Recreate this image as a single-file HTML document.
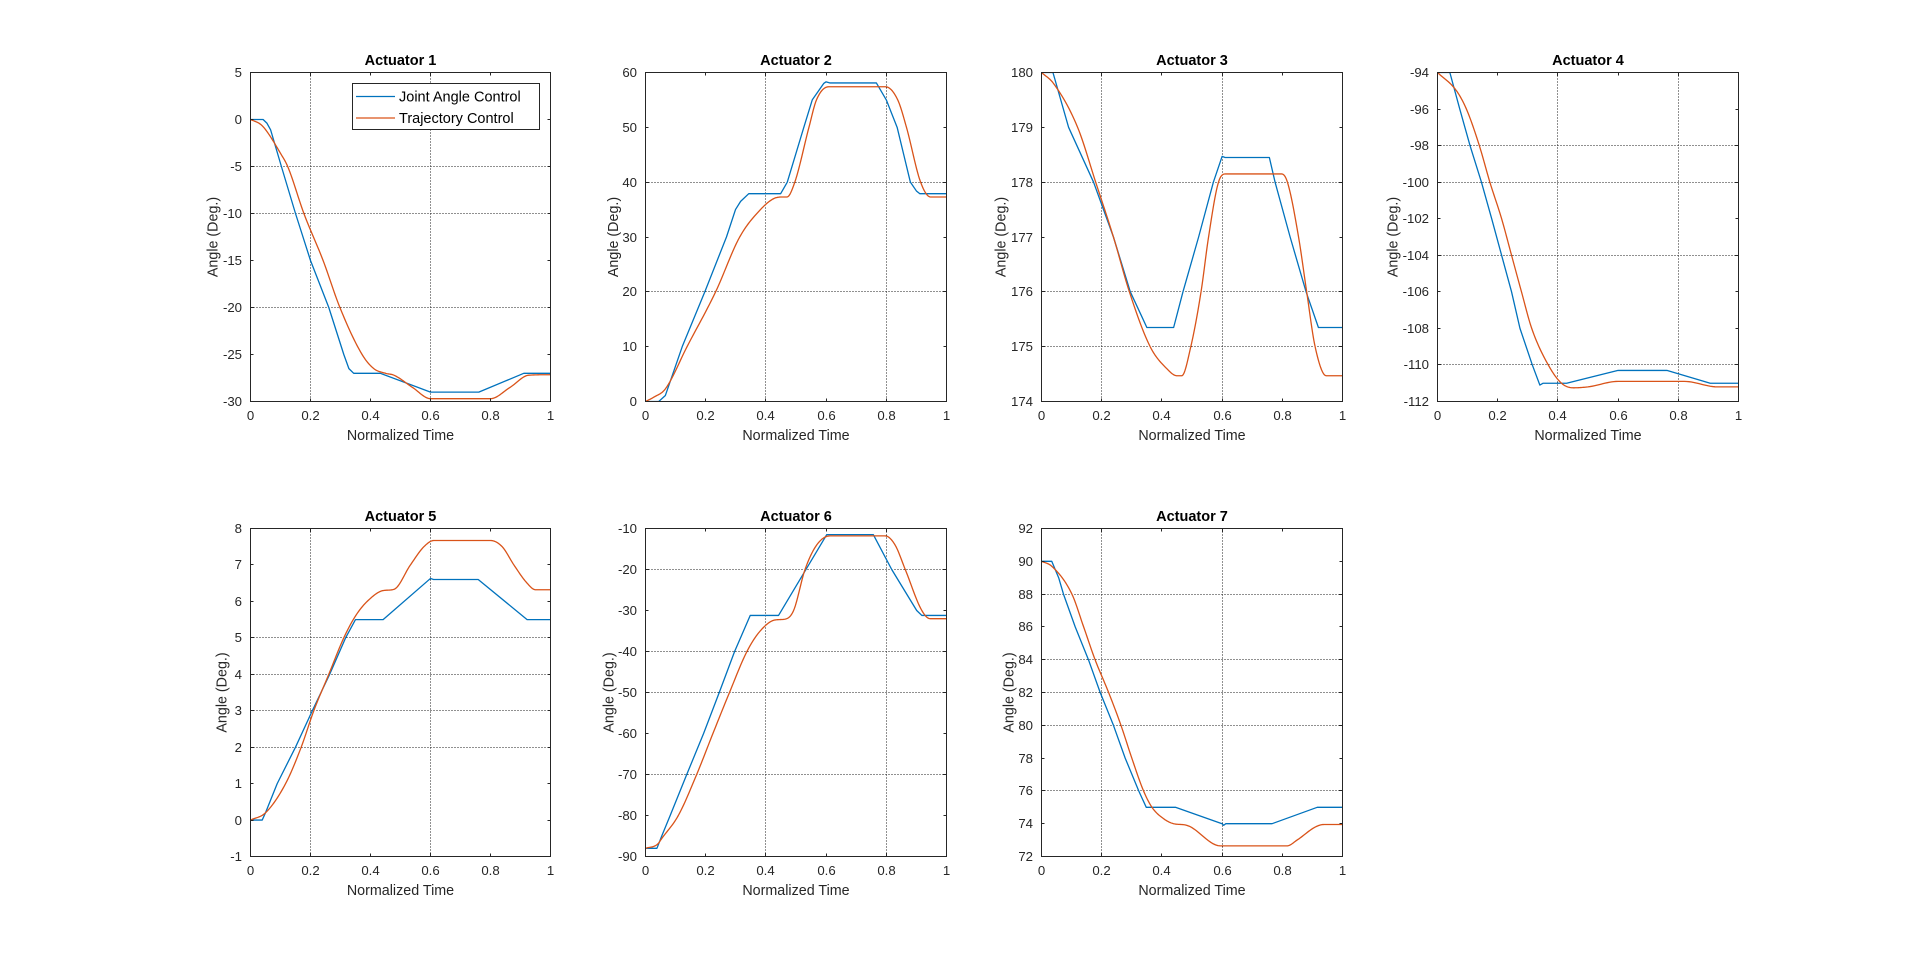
<!DOCTYPE html>
<html><head><meta charset="utf-8">
<style>
html,body{margin:0;padding:0;background:#fff;}
svg{display:block}
text{font-family:"Liberation Sans",Arial,sans-serif;}
</style></head>
<body>
<svg id="s" xmlns="http://www.w3.org/2000/svg" width="1919" height="961" viewBox="0 0 1919 961">
<rect x="0" y="0" width="1919" height="961" fill="#ffffff"/>
</svg>
<script>
const NS='http://www.w3.org/2000/svg';
const svg=document.getElementById('s');
function el(tag,attrs,parent,text){const e=document.createElementNS(NS,tag);for(const k in attrs)e.setAttribute(k,attrs[k]);if(text!==undefined)e.textContent=text;(parent||svg).appendChild(e);return e;}
function mono(pts){
  const N=pts.length, xs=pts.map(p=>p[0]), ys=pts.map(p=>p[1]);
  const d=[],m=new Array(N);
  for(let i=0;i<N-1;i++) d.push((ys[i+1]-ys[i])/(xs[i+1]-xs[i]));
  m[0]=d[0]; m[N-1]=d[N-2];
  for(let i=1;i<N-1;i++){ if(d[i-1]*d[i]<=0) m[i]=0; else m[i]=(d[i-1]+d[i])/2; }
  for(let i=0;i<N-1;i++){
    if(d[i]===0){m[i]=0;m[i+1]=0;continue;}
    const a=m[i]/d[i], b=m[i+1]/d[i], s=a*a+b*b;
    if(s>9){const t=3/Math.sqrt(s); m[i]=t*a*d[i]; m[i+1]=t*b*d[i];}
  }
  const out=[];
  for(let i=0;i<N-1;i++){
    const h=xs[i+1]-xs[i], steps=14;
    for(let k=0;k<steps;k++){
      const t=k/steps, t2=t*t, t3=t2*t;
      const y=(2*t3-3*t2+1)*ys[i]+(t3-2*t2+t)*h*m[i]+(-2*t3+3*t2)*ys[i+1]+(t3-t2)*h*m[i+1];
      out.push([xs[i]+t*h,y]);
    }
  }
  out.push([xs[N-1],ys[N-1]]);
  return out;
}
function range(a,b,s){const r=[];for(let v=a;v<=b+1e-9;v+=s)r.push(Math.round(v*1000)/1000);return r;}

const charts=[
{t:'Actuator 1',L:250,R:550,T:72,B:401,ymin:-30,ymax:5,yt:range(-30,5,5),gx:[0.2,0.6],gy:[-5,-10,-20],ylx:212.5,legend:true,
 b:[[0,0],[0.042,0],[0.055,-0.4],[0.067,-1.1],[0.103,-5],[0.15,-10],[0.2,-15],[0.261,-20],[0.311,-25],[0.328,-26.5],[0.344,-27],[0.433,-27],[0.6,-29],[0.761,-29],[0.911,-27],[1,-27]],
 o:[[0,0],[0.033,-0.5],[0.05,-1.07],[0.1,-3.6],[0.124,-5],[0.178,-10],[0.242,-15],[0.298,-20],[0.372,-25],[0.411,-26.5],[0.45,-27],[0.478,-27.2],[0.54,-28.5],[0.6,-29.7],[0.8,-29.7],[0.865,-28.5],[0.928,-27.2],[1,-27.15]]},
{t:'Actuator 2',L:645,R:946,T:72,B:401,ymin:0,ymax:60,yt:range(0,60,10),gx:[0.4,0.8],gy:[40,20],ylx:613,
 b:[[0,0],[0.044,0],[0.066,1.1],[0.122,10],[0.197,20],[0.269,30],[0.299,35],[0.316,36.5],[0.343,37.9],[0.449,37.9],[0.471,40],[0.526,50],[0.554,55],[0.592,58],[0.6,58.3],[0.612,58.1],[0.767,58.1],[0.8,55],[0.836,50],[0.858,45],[0.88,40],[0.9,38.4],[0.911,37.9],[1,37.9]],
 o:[[0,0],[0.028,0.8],[0.066,2.3],[0.138,10],[0.233,20],[0.313,30],[0.382,35],[0.426,37],[0.457,37.3],[0.47,37.3],[0.496,40],[0.543,50],[0.568,55],[0.609,57.4],[0.797,57.4],[0.838,55],[0.867,50],[0.914,40],[0.947,37.3],[1,37.3]]},
{t:'Actuator 3',L:1041,R:1342,T:72,B:401,ymin:174,ymax:180,yt:range(174,180,1),gx:[0.2,0.6],gy:[178,176,175],ylx:1000.5,
 b:[[0,180],[0.038,180],[0.09,179],[0.173,178],[0.239,177],[0.295,176],[0.35,175.35],[0.439,175.35],[0.47,176],[0.522,177],[0.571,178],[0.6,178.47],[0.61,178.45],[0.757,178.45],[0.776,178],[0.826,177],[0.879,176],[0.92,175.35],[1,175.35]],
 o:[[0,180],[0.04,179.8],[0.12,179],[0.18,178],[0.239,177],[0.292,176],[0.361,175],[0.416,174.6],[0.45,174.47],[0.466,174.47],[0.496,175],[0.53,176],[0.555,177],[0.588,178],[0.613,178.15],[0.798,178.15],[0.817,178],[0.854,177],[0.881,176],[0.909,175],[0.946,174.47],[1,174.47]]},
{t:'Actuator 4',L:1437,R:1738,T:72,B:401,ymin:-112,ymax:-94,yt:range(-112,-94,2),gx:[0.4,0.8],gy:[-98,-100,-104,-110],ylx:1392.5,
 b:[[0,-94],[0.041,-94],[0.074,-96],[0.108,-98],[0.146,-100],[0.18,-102],[0.213,-104],[0.246,-106],[0.274,-108],[0.315,-110],[0.34,-111.1],[0.351,-111],[0.429,-111],[0.6,-110.3],[0.762,-110.3],[0.906,-111],[1,-111]],
 o:[[0,-94],[0.063,-95],[0.096,-96],[0.139,-98],[0.174,-100],[0.213,-102],[0.246,-104],[0.279,-106],[0.313,-108],[0.368,-110],[0.412,-111],[0.451,-111.25],[0.5,-111.2],[0.6,-110.9],[0.82,-110.9],[0.93,-111.2],[1,-111.2]]},
{t:'Actuator 5',L:250,R:550,T:528,B:856,ymin:-1,ymax:8,yt:range(-1,8,1),gx:[0.2,0.6],gy:[5,4,3,2],ylx:221.5,
 b:[[0,0],[0.039,0],[0.05,0.2],[0.089,1],[0.15,2],[0.206,3],[0.264,4],[0.317,5],[0.35,5.5],[0.442,5.5],[0.6,6.63],[0.61,6.6],[0.759,6.6],[0.922,5.5],[1,5.5]],
 o:[[0,0],[0.05,0.2],[0.117,1],[0.169,2],[0.211,3],[0.261,4],[0.311,5],[0.35,5.6],[0.389,6],[0.444,6.3],[0.478,6.33],[0.533,7],[0.578,7.5],[0.611,7.67],[0.8,7.67],[0.839,7.5],[0.878,7],[0.922,6.5],[0.95,6.32],[1,6.32]]},
{t:'Actuator 6',L:645,R:946,T:528,B:856,ymin:-90,ymax:-10,yt:range(-90,-10,10),gx:[0.4,0.8],gy:[-20,-40,-50,-70],ylx:608.5,
 b:[[0,-88],[0.038,-88],[0.054,-85],[0.082,-80],[0.137,-70],[0.193,-60],[0.245,-50],[0.296,-40],[0.348,-31.2],[0.442,-31.2],[0.602,-11.5],[0.757,-11.5],[0.818,-20],[0.901,-30],[0.918,-31.2],[1,-31.2]],
 o:[[0,-88],[0.04,-87],[0.055,-85.5],[0.109,-80],[0.17,-70],[0.224,-60],[0.279,-50],[0.337,-40],[0.381,-35],[0.431,-32.3],[0.464,-32.1],[0.492,-30],[0.53,-20],[0.569,-14],[0.613,-11.8],[0.796,-11.8],[0.829,-14],[0.863,-20],[0.918,-30],[0.946,-32],[1,-32]]},
{t:'Actuator 7',L:1041,R:1342,T:528,B:856,ymin:72,ymax:92,yt:range(72,92,2),gx:[0.2,0.6],gy:[88,84,82,80,76],ylx:1008.5,
 b:[[0,90],[0.034,90],[0.057,89],[0.073,88],[0.112,86],[0.156,84],[0.195,82],[0.239,80],[0.278,78],[0.323,76],[0.348,75],[0.445,75],[0.6,74],[0.605,73.9],[0.612,74],[0.766,74],[0.916,75],[1,75]],
 o:[[0,90],[0.034,89.7],[0.101,88],[0.14,86],[0.178,84],[0.223,82],[0.264,80],[0.3,78],[0.339,76],[0.367,75],[0.406,74.3],[0.439,74],[0.483,73.9],[0.594,72.65],[0.816,72.65],[0.849,73],[0.91,73.8],[0.938,73.95],[1,73.95]]}
];
const AX='#262626';
charts.forEach((c,ci)=>{
  const x0=c.L+0.5,x1=c.R+0.5,y0=c.T+0.5,y1=c.B+0.5;
  const px=x=>x0+x*(x1-x0);
  const py=y=>y1-(y-c.ymin)/(c.ymax-c.ymin)*(y1-y0);
  const g=el('g',{});
  // grid
  c.gx.forEach(v=>{const X=Math.round(px(v)-0.5)+0.5;el('line',{x1:X,y1:y0,x2:X,y2:y1,stroke:'#222',"stroke-width":1,"stroke-dasharray":"1 2"},g);});
  c.gy.forEach(v=>{const Y=Math.round(py(v)-0.5)+0.5;el('line',{x1:x0,y1:Y,x2:x1,y2:Y,stroke:'#222',"stroke-width":1,"stroke-dasharray":"1 2"},g);});
  // clip
  const cid='cl'+ci;
  const defs=el('defs',{},g);const cp=el('clipPath',{id:cid},defs);el('rect',{x:x0,y:y0,width:x1-x0,height:y1-y0},cp);
  // series
  const toS=pts=>pts.map(p=>px(p[0]).toFixed(2)+','+py(p[1]).toFixed(2)).join(' ');
  el('polyline',{points:toS(c.b),fill:'none',stroke:'#0072BD',"stroke-width":1.3,"clip-path":'url(#'+cid+')',"stroke-linejoin":'round'},g);
  el('polyline',{points:toS(mono(c.o)),fill:'none',stroke:'#D95319',"stroke-width":1.3,"clip-path":'url(#'+cid+')',"stroke-linejoin":'round'},g);
  // ticks
  const xt=[0,0.2,0.4,0.6,0.8,1];
  xt.forEach(v=>{const X=Math.round(px(v)-0.5)+0.5;
    el('line',{x1:X,y1:y1,x2:X,y2:y1-3,stroke:AX,"stroke-width":1},g);
    el('line',{x1:X,y1:y0,x2:X,y2:y0+3,stroke:AX,"stroke-width":1},g);
    el('text',{x:X,y:c.B+19,"text-anchor":'middle',"font-size":'13.2px',fill:AX},g,String(v));
  });
  c.yt.forEach(v=>{const Y=Math.round(py(v)-0.5)+0.5;
    el('line',{x1:x0,y1:Y,x2:x0+3,y2:Y,stroke:AX,"stroke-width":1},g);
    el('line',{x1:x1,y1:Y,x2:x1-3,y2:Y,stroke:AX,"stroke-width":1},g);
    el('text',{x:c.L-8,y:Y+4.6,"text-anchor":'end',"font-size":'13.2px',fill:AX},g,String(v));
  });
  // box
  el('rect',{x:x0,y:y0,width:x1-x0,height:y1-y0,fill:'none',stroke:AX,"stroke-width":1},g);
  // title
  el('text',{x:(x0+x1)/2,y:c.T-7,"text-anchor":'middle',"font-size":'14.5px',"font-weight":'bold',fill:'#000'},g,c.t);
  el('text',{x:(x0+x1)/2,y:c.B+39,"text-anchor":'middle',"font-size":'14.3px',fill:AX},g,'Normalized Time');
  const cy=(y0+y1)/2;
  el('text',{x:0,y:0,"text-anchor":'middle',"font-size":'14.3px',fill:AX,transform:'translate('+(c.ylx+5)+','+cy+') rotate(-90)'},g,'Angle (Deg.)');
  if(c.legend){
    el('rect',{x:352.5,y:83.5,width:187,height:46,fill:'#fff',stroke:AX,"stroke-width":1},g);
    el('line',{x1:356,y1:96.5,x2:395,y2:96.5,stroke:'#0072BD',"stroke-width":1.3},g);
    el('line',{x1:356,y1:118,x2:395,y2:118,stroke:'#D95319',"stroke-width":1.3},g);
    el('text',{x:399,y:101.5,"font-size":'14.5px',fill:'#000'},g,'Joint Angle Control');
    el('text',{x:399,y:123,"font-size":'14.5px',fill:'#000'},g,'Trajectory Control');
  }
});
</script>
</body></html>
